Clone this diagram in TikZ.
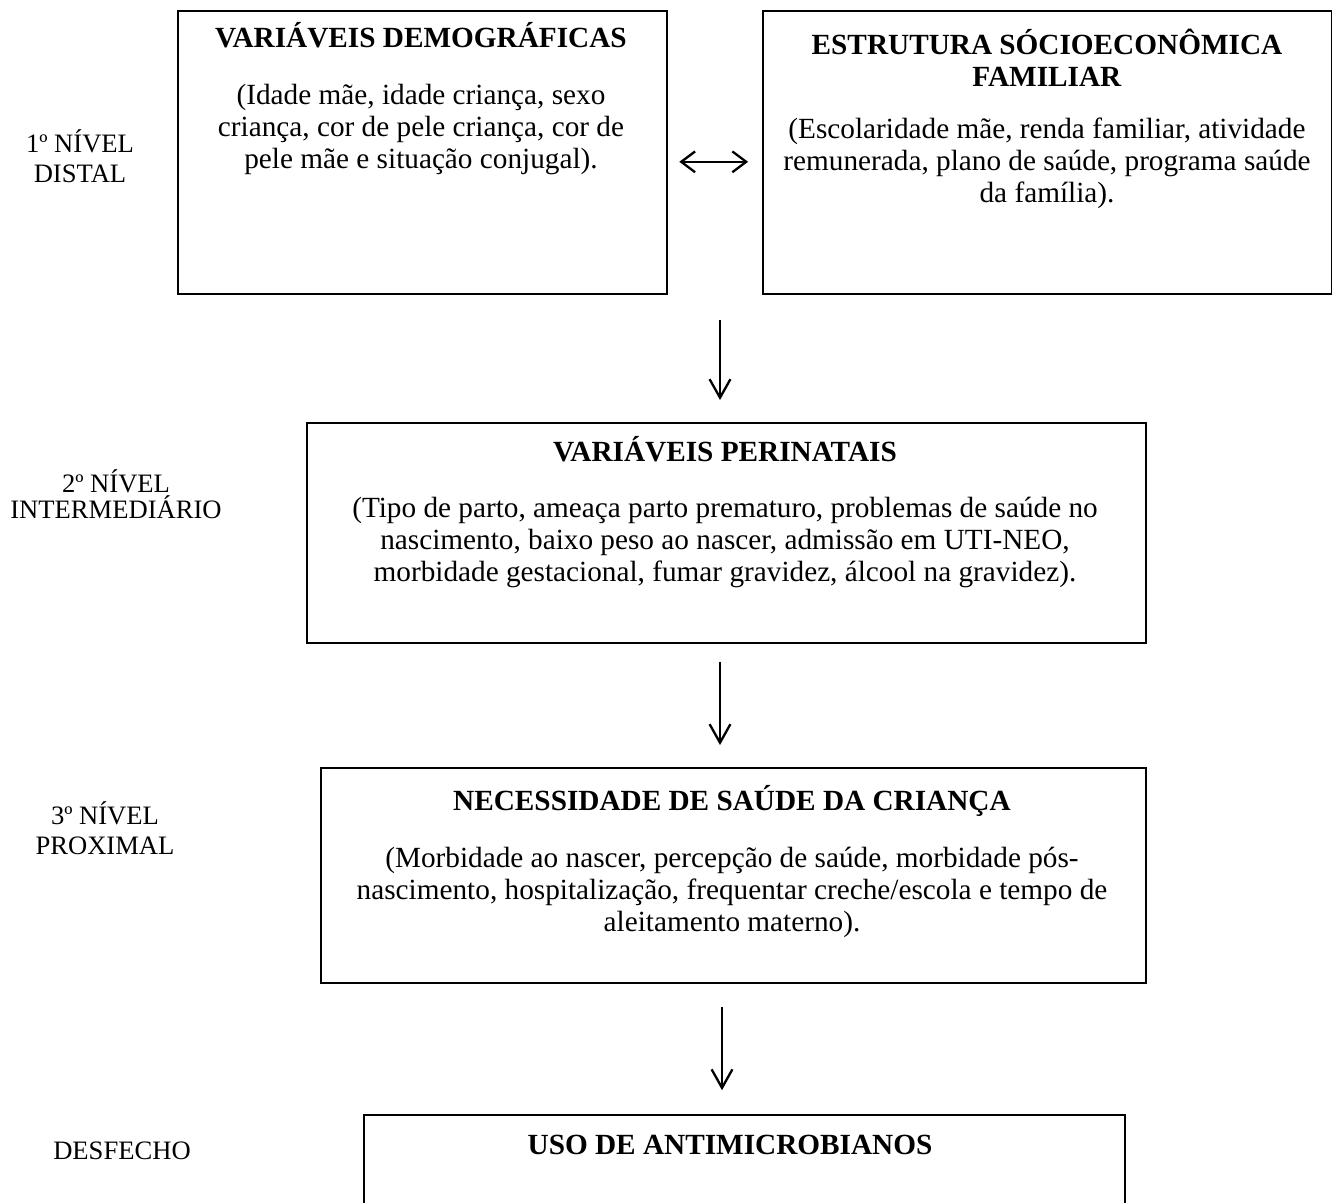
\documentclass[tikz,border=0pt]{standalone}
\usepackage{fontspec}
\setmainfont{Liberation Serif}
\usetikzlibrary{positioning,arrows.meta}

\tikzset{
  caixa/.style={draw, line width=0.7pt, anchor=north west, inner sep=0pt},
  texto/.style={font=\fontsize{12.65}{13.8}\selectfont, align=center, inner sep=0pt, anchor=north},
  nivel/.style={font=\fontsize{11.5}{13}\selectfont, align=center, inner sep=0pt},
  seta/.style={line width=1pt, -{Straight Barb[length=8pt,width=9pt]}},
  seta2/.style={line width=1pt, {Straight Barb[length=6pt,width=9pt]}-{Straight Barb[length=6pt,width=9pt]}}
}

\begin{document}
\begin{tikzpicture}[x=0.0152cm, y=-0.0152cm]
    \useasboundingbox (0,0) rectangle (1332,1202);
    \clip (0,0) rectangle (1332,1202);

    % primeiro nivel
    \node[caixa, minimum width=7.433cm, minimum height=4.302cm] (cA) at (177,10) {};
    \node[caixa, minimum width=8.649cm, minimum height=4.302cm] (cB) at (762,10) {};
    \node[texto] (tA) at (421,22) {\textbf{VARIÁVEIS DEMOGRÁFICAS}\\[11pt]
        (Idade mãe, idade criança, sexo\\
        criança, cor de pele criança, cor de\\
        pele mãe e situação conjugal).};
    \node[texto] (tB) at (1047,29) {\textbf{ESTRUTURA SÓCIOECONÔMICA}\\
        \textbf{FAMILIAR}\\[8.5pt]
        (Escolaridade mãe, renda familiar, atividade\\
        remunerada, plano de saúde, programa saúde\\
        da família).};
    \draw[seta2] ([yshift=-0.144cm]cA.east) -- ([yshift=-0.144cm]cB.west)
        [shorten <=5pt, shorten >=6pt];

    % segundo nivel
    \node[caixa, minimum width=12.753cm, minimum height=3.344cm] (cC) at (306,422) {};
    \node[texto] (tC) at (725,436) {\textbf{VARIÁVEIS PERINATAIS}\\[10.5pt]
        (Tipo de parto, ameaça parto prematuro, problemas de saúde no\\
        nascimento, baixo peso ao nascer, admissão em UTI-NEO,\\
        morbidade gestacional, fumar gravidez, álcool na gravidez).};

    % terceiro nivel
    \node[caixa, minimum width=12.54cm, minimum height=3.268cm] (cD) at (320,767) {};
    \node[texto] (tD) at (732,785) {\textbf{NECESSIDADE DE SAÚDE DA CRIANÇA}\\[11pt]
        (Morbidade ao nascer, percepção de saúde, morbidade pós-\\
        nascimento, hospitalização, frequentar creche/escola e tempo de\\
        aleitamento materno).};

    % desfecho
    \node[caixa, minimum width=11.567cm, minimum height=2.4cm] (cE) at (363,1114) {};
    \node[texto] (tE) at (730,1135) {\textbf{USO DE ANTIMICROBIANOS}};

    % setas
    \draw[seta, shorten <=10.8pt, shorten >=9.5pt] (cA.south -| 720,0) -- (cC.north -| 720,0);
    \draw[seta, shorten <=7.8pt, shorten >=9.5pt] (cC.south -| 720,0) -- (cD.north -| 720,0);
    \draw[seta, shorten <=10pt, shorten >=10.3pt] (cD.south -| 722,0) -- (cE.north -| 722,0);

    % niveis
    \node[nivel] (n1) at (80,156) {1º NÍVEL\\DISTAL};
    \node[nivel] (n2) at (116,494) {2º NÍVEL\\[-2pt]INTERMEDIÁRIO};
    \node[nivel] (n3) at (105,828) {3º NÍVEL\\PROXIMAL};
    \node[nivel] (n4) at (122,1151) {DESFECHO};
\end{tikzpicture}
\end{document}
